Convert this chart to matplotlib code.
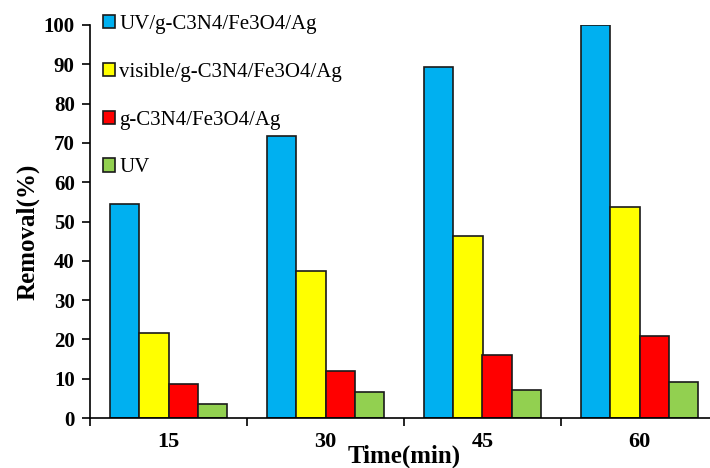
import matplotlib.pyplot as plt
import numpy as np

times = ['15', '30', '45', '60']
uv_cat = [54.5, 71.8, 89.3, 100.0]
vis_cat = [21.7, 37.5, 46.4, 53.7]
cat_only = [8.7, 12.0, 16.0, 20.9]
uv_only = [3.6, 6.7, 7.1, 9.1]
labels = ['UV/g-C3N4/Fe3O4/Ag', 'visible/g-C3N4/Fe3O4/Ag', 'g-C3N4/Fe3O4/Ag', 'UV']
colors = ['#00B0F0', '#FFFF00', '#FF0000', '#92D050']

plt.rcParams['font.family'] = ['Liberation Serif', 'DejaVu Serif']

fig = plt.figure(figsize=(7.1, 4.68), dpi=100)
ax = fig.add_axes([90/710, 50/468, 628/710, 393/468])

x = np.arange(len(times))
w = 0.185
series = [uv_cat, vis_cat, cat_only, uv_only]
for i, (vals, lab, col) in enumerate(zip(series, labels, colors)):
  ax.bar(x + (i - 1.5)*w, vals, w, color=col, edgecolor='#1a1a1a', linewidth=1.2, label=lab)

ax.set_xlim(-0.5, 3.5)
ax.set_ylim(0, 100)
ax.set_yticks(range(0, 101, 10))
ax.set_xticks(x)
ax.set_xticklabels(times)
ax.set_xticks([-0.5, 0.5, 1.5, 2.5], minor=True)
ax.tick_params(axis='x', which='major', length=0, pad=10, labelsize=16)
ax.tick_params(axis='x', which='minor', length=6, width=1.2, direction='out')
ax.tick_params(axis='y', length=6, width=1.2, direction='out', labelsize=15, pad=5)
for t in ax.get_xticklabels() + ax.get_yticklabels():
  t.set_fontweight('bold')

ax.spines['top'].set_visible(False)
ax.spines['right'].set_visible(False)
ax.spines['left'].set_linewidth(1.2)
ax.spines['bottom'].set_linewidth(1.2)

xl = ax.set_xlabel('Time(min)', fontsize=18, fontweight='bold')
xl.set_verticalalignment('center')
ax.xaxis.set_label_coords(0.5, (418 - 456) / 393)
yl = ax.set_ylabel('Removal(%)', fontsize=18, fontweight='bold')
yl.set_verticalalignment('center')
ax.yaxis.set_label_coords((28 - 90) / 628, (418 - 232) / 393)

leg = ax.legend(loc='upper left', bbox_to_anchor=(0.0, 1.057), frameon=False, fontsize=15,
                labelspacing=1.38, handlelength=0.6, handleheight=0.6, handletextpad=0.2,
                borderaxespad=0.2)

fig.savefig('out.png', dpi=100)
